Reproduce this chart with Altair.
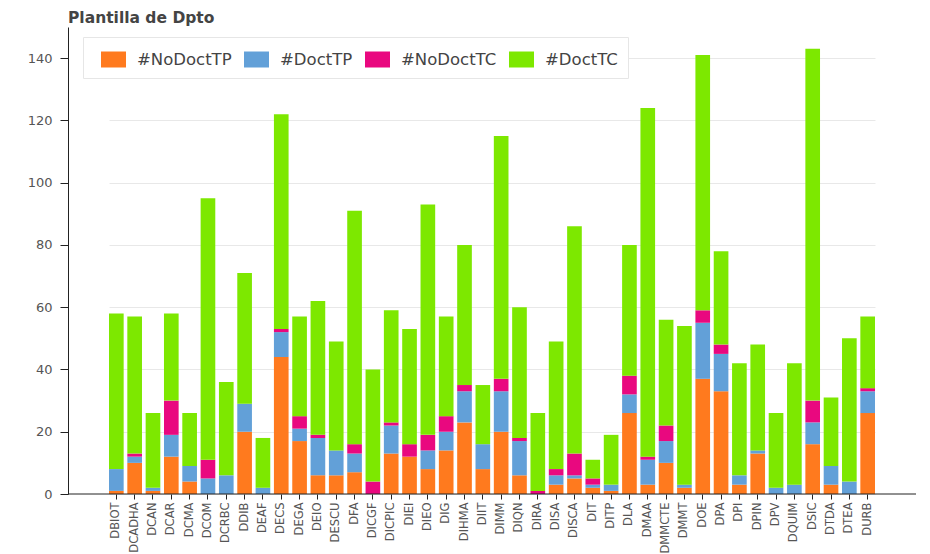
import altair as alt
import pandas as pd

departamentos = ["DBIOT", "DCADHA", "DCAN", "DCAR", "DCMA", "DCOM", "DCRBC", "DDIB", "DEAF", "DECS",
                 "DEGA", "DEIO", "DESCU", "DFA", "DICGF", "DICPIC", "DIEI", "DIEO", "DIG", "DIHMA",
                 "DIIT", "DIMM", "DIQN", "DIRA", "DISA", "DISCA", "DIT", "DITP", "DLA", "DMAA",
                 "DMMCTE", "DMMT", "DOE", "DPA", "DPI", "DPIN", "DPV", "DQUIM", "DSIC", "DTDA",
                 "DTEA", "DURB"]

no_doct_tp = [1, 10, 1, 12, 4, 0, 0, 20, 0, 44, 17, 6, 6, 7, 0, 13, 12, 8, 14, 23,
              8, 20, 6, 0, 3, 5, 2, 1, 26, 3, 10, 2, 37, 33, 3, 13, 0, 0, 16, 3, 0, 26]
doct_tp = [7, 2, 1, 7, 5, 5, 6, 9, 2, 8, 4, 12, 8, 6, 0, 9, 0, 6, 6, 10,
           8, 13, 11, 0, 3, 1, 1, 2, 6, 8, 7, 1, 18, 12, 3, 1, 2, 3, 7, 6, 4, 7]
no_doct_tc = [0, 1, 0, 11, 0, 6, 0, 0, 0, 1, 4, 1, 0, 3, 4, 1, 4, 5, 5, 2,
              0, 4, 1, 1, 2, 7, 2, 0, 6, 1, 5, 0, 4, 3, 0, 0, 0, 0, 7, 0, 0, 1]
doct_tc = [50, 44, 24, 28, 17, 84, 30, 42, 16, 69, 32, 43, 35, 75, 36, 36, 37, 74, 32, 45,
           19, 78, 42, 25, 41, 73, 6, 16, 42, 112, 34, 51, 82, 30, 36, 34, 24, 39, 113, 22, 46, 23]

series = ["#NoDoctTP", "#DoctTP", "#NoDoctTC", "#DoctTC"]
colores = ["#ff7a1e", "#62a0d8", "#e9087f", "#7de800"]
y_ticks = [0, 20, 40, 60, 80, 100, 120, 140]

rows = []
for i, serie_vals in enumerate([no_doct_tp, doct_tp, no_doct_tc, doct_tc]):
    for d, v in zip(departamentos, serie_vals):
        rows.append({"Dpto": d, "serie": series[i], "orden": i, "valor": v})
df = pd.DataFrame(rows)

W, H = 848, 467

bars = alt.Chart(df).mark_bar().encode(
    x=alt.X("Dpto:N", sort=departamentos,
            scale=alt.Scale(paddingInner=0.2, paddingOuter=0, range=[41, 807]),
            axis=alt.Axis(title=None, labelAngle=270, labelFont="DejaVu Sans", labelFontSize=11.5,
                          labelColor="#555555", labelPadding=3, tickSize=5, tickColor="#222222",
                          domain=False, grid=False)),
    y=alt.Y("valor:Q", stack="zero",
            scale=alt.Scale(domain=[0, 150], nice=False),
            axis=alt.Axis(title=None, values=y_ticks, labelFont="DejaVu Sans", labelFontSize=13,
                          labelColor="#555555", labelPadding=8, tickSize=8, tickColor="#222222",
                          domainColor="#222222", grid=True, gridColor="#e8e8e8")),
    color=alt.Color("serie:N", scale=alt.Scale(domain=series, range=colores),
                    legend=alt.Legend(title=None, orient="none", legendX=15, legendY=10,
                                      direction="horizontal",
                                      symbolType="M-1,-0.64H1V0.64H-1Z", symbolSize=625,
                                      symbolStrokeWidth=0, symbolOffset=8,
                                      labelFont="DejaVu Sans", labelFontSize=16.5, labelColor="#444444",
                                      labelOffset=11, columnPadding=4, padding=10,
                                      strokeColor="#e6e6e6", fillColor="white")),
    order=alt.Order("orden:Q", sort="ascending"),
)

baseline = alt.Chart(pd.DataFrame({"v": [0]})).mark_rule(color="#222222", strokeWidth=1).encode(
    y=alt.Y("v:Q"),
    x=alt.value(0),
    x2=alt.value(W),
)

chart = alt.layer(bars, baseline).properties(
    width=W,
    height=H,
    title=alt.TitleParams(text="Plantilla de Dpto", anchor="start", frame="group", font="DejaVu Sans",
                          fontSize=15.5, fontWeight="bold", color="#444444", offset=1),
    autosize=alt.AutoSizeParams(type="none"),
    padding={"left": 60, "top": 19, "right": 6, "bottom": 60},
).configure_view(stroke="transparent")

chart.save("out.html", embed_options={"renderer": "svg", "actions": False})
